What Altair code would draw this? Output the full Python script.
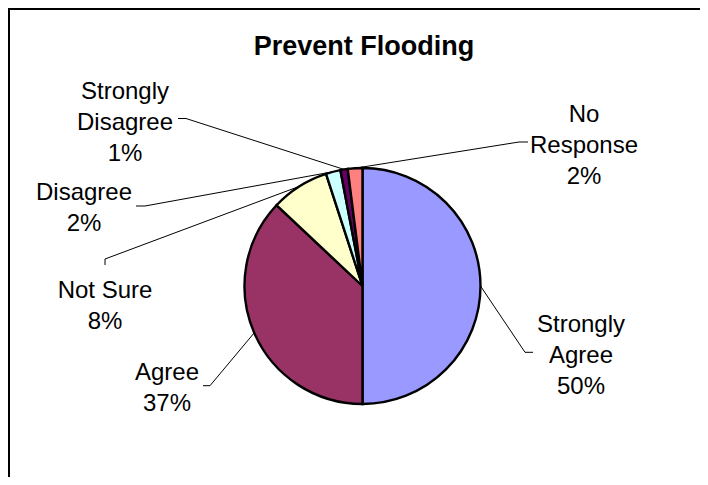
import math
import altair as alt
import pandas as pd

# ---------------- data ----------------
categories = ["Strongly Agree", "Agree", "Not Sure", "Disagree", "Strongly Disagree", "No Response"]
percents = [50, 37, 8, 2, 1, 2]
colors = ["#9999FF", "#993366", "#FFFFCC", "#CCFFFF", "#660066", "#FF8080"]
label_names = ["Strongly\nAgree", "Agree", "Not Sure", "Disagree", "Strongly\nDisagree", "No\nResponse"]
chart_title = "Prevent Flooding"

# ---------------- layout (pixels inside the plot area) ----------------
W, H = 692, 469
CX, CY, R = 354.5, 278, 118
FONT = "Liberation Sans"
# centre of the first text line of each label
label_first_line = [(573, 317), (159, 365), (97, 283), (76, 185), (117, 84), (576, 107)]
leader_ticks = [
    [(525, 344.3), (517, 344.3)],
    [(195, 377.7), (202, 377.7)],
    [(97, 257), (97, 251)],
    [(128, 198), (137, 198)],
    [(170, 110.5), (178, 110.5)],
    [(520, 134), (511, 134)],
]

total = sum(percents)
pie_df = pd.DataFrame({
    "cat": categories,
    "value": percents,
    "idx": list(range(len(categories))),
})

# leader lines: end at the slice mid angle on the pie edge
rows = []
cum = 0.0
mids = []
for c, v in zip(categories, percents):
    mids.append((cum + v / 2) / total * 2 * math.pi)
    cum += v
for i, c in enumerate(categories):
    pts = list(leader_ticks[i])
    a = mids[i]
    pts.append((CX + R * math.sin(a), CY - R * math.cos(a)))
    for s, (px, py) in enumerate(pts):
        rows.append({"cat": c, "seq": s, "px": px, "py": py})
lead_df = pd.DataFrame(rows)

lab_df = pd.DataFrame({
    "cat": categories,
    "txt": [f"{n}\n{p}%" for n, p in zip(label_names, percents)],
    "lx": [p[0] for p in label_first_line],
    "ly": [p[1] for p in label_first_line],
})

pie = alt.Chart(pie_df).mark_arc(outerRadius=R, stroke="black", strokeWidth=2.4).encode(
    theta=alt.Theta("value:Q", stack=True),
    color=alt.Color("cat:N", scale=alt.Scale(domain=categories, range=colors), legend=None),
    order=alt.Order("idx:Q"),
    x=alt.value(CX),
    y=alt.value(CY),
)

leaders = alt.Chart(lead_df).mark_line(color="black", strokeWidth=1).encode(
    x=alt.X("px:Q", scale=None, axis=None),
    y=alt.Y("py:Q", scale=None, axis=None),
    detail="cat:N",
    order="seq:Q",
)

labels = alt.Chart(lab_df).mark_text(
    font=FONT, fontSize=24, lineHeight=31, lineBreak="\n",
    align="center", baseline="middle", color="black",
).encode(
    x=alt.X("lx:Q", scale=None, axis=None),
    y=alt.Y("ly:Q", scale=None, axis=None),
    text="txt:N",
)

title = alt.Chart(pd.DataFrame({"t": [chart_title]})).mark_text(
    font=FONT, fontSize=27, fontWeight="bold", align="center", baseline="middle", color="black",
).encode(x=alt.value(356), y=alt.value(39), text="t:N")

top_border = alt.Chart(pd.DataFrame({"a": [0]})).mark_rule(color="black", strokeWidth=2).encode(
    x=alt.value(0), x2=alt.value(695), y=alt.value(1)
)
left_border = alt.Chart(pd.DataFrame({"a": [0]})).mark_rule(color="black", strokeWidth=2).encode(
    x=alt.value(1), y=alt.value(0), y2=alt.value(H)
)

chart = alt.layer(pie, leaders, labels, title, top_border, left_border).properties(
    width=W, height=H, autosize=alt.AutoSizeParams(type="none"), padding=0,
    background="white",
).configure_view(strokeWidth=0)

chart.save("out.html", embed_options={"renderer": "svg", "actions": False})
